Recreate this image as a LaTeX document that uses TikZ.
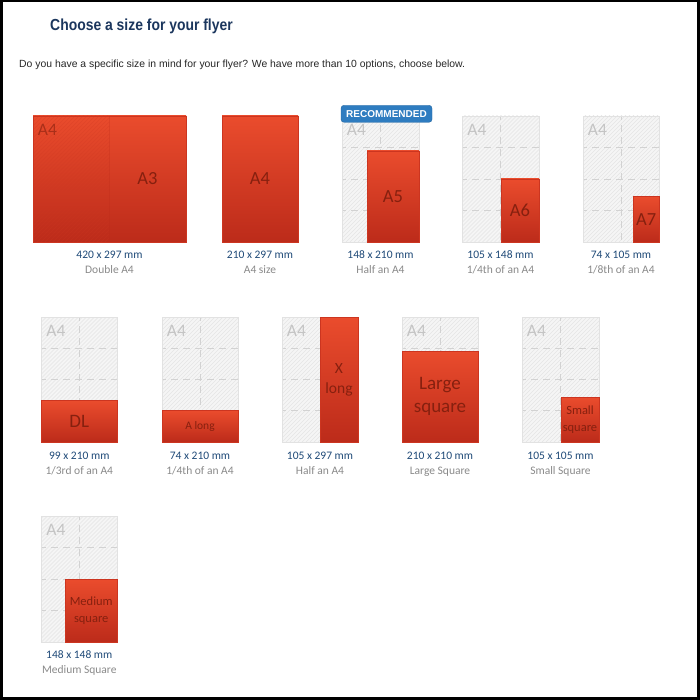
\documentclass[tikz,border=0pt]{standalone}
\usepackage{fontspec}
\setmainfont{Carlito}
\newfontfamily\subfont{Liberation Sans}
\newfontfamily\titlefont[FakeStretch=0.87]{Liberation Sans}
\newfontfamily\badgefont{Liberation Sans}
\definecolor{navy}{HTML}{1B365D}
\definecolor{sizeblue}{HTML}{1F4A78}
\definecolor{descgrey}{HTML}{8A8A8A}
\definecolor{redtop}{HTML}{EA4C2D}
\definecolor{redbot}{HTML}{BC2B1A}
\definecolor{redline}{HTML}{CC3520}
\definecolor{redtext}{HTML}{86200F}
\definecolor{bgfill}{HTML}{F5F5F5}
\definecolor{bgline}{HTML}{E2E2E2}
\definecolor{hatchc}{HTML}{E4E4E4}
\definecolor{dashc}{HTML}{D2D2D2}
\definecolor{a4grey}{HTML}{C4C4C4}
\definecolor{badgeblue}{HTML}{2E7CC0}
\tikzset{
  cardbg/.style={fill=bgfill},
  hatch/.style={draw=hatchc, line width=0.6pt},
  dashline/.style={draw=dashc, line width=0.8pt, dash pattern=on 7pt off 5pt, dash phase=3pt},
  cardborder/.style={draw=bgline, line width=0.8pt},
  a4lbl/.style={text=a4grey, inner sep=0pt, font={\fontsize{17.5}{20}\selectfont}},
  redbox/.style={top color=redtop, bottom color=redbot, draw=redline, line width=0.8pt},
  redtxt/.style={text=redtext, inner sep=0pt, align=center},
  sizelbl/.style={text=sizeblue, inner sep=0pt, anchor=base, font={\fontsize{11.5}{13}\selectfont}},
  desclbl/.style={text=descgrey, inner sep=0pt, anchor=base, font={\fontsize{11.5}{13}\selectfont}},
}
% background A4 card: x0 y0 x1 y1 name
\newcommand{\bgcard}[5]{%
  \fill[cardbg] (#1,#2) rectangle (#3,#4);
  \begin{scope}
    \clip (#1,#2) rectangle (#3,#4);
    \foreach \t in {-140,-136,...,80} \draw[hatch] (#1+\t,#4) -- ++(140,-140);
  \end{scope}
  \draw[dashline] ({(#1+#3)/2},#2) -- ({(#1+#3)/2},#4);
  \foreach \q in {1,2,3} \draw[dashline] (#1,{#2+\q*(#4-#2)/4}) -- (#3,{#2+\q*(#4-#2)/4});
  \draw[cardborder] (#1,#2) rectangle (#3,#4);
  \node[a4lbl, anchor=base west] (#5) at (#1+4.7,#2+19.5) {A4};
}
% red format: rx ry x1 y1 name fontsize baselineskip text
\newcommand{\redfmt}[8]{%
  \path[redbox] (#1,#2) rectangle (#3,#4);
  \node[redtxt, font={\fontsize{#6}{#7}\selectfont}] (#5) at ({(#1+#3)/2},{(#2+#4)/2}) {#8};
}
% labels: cx ybase size desc name
\newcommand{\cardlabels}[5]{%
  \node[sizelbl] (#5s) at (#1,#2) {#3};
  \node[desclbl] (#5d) at (#1,#2+15.3) {#4};
}
\begin{document}
\begin{tikzpicture}[x=1pt,y=-1pt]
\useasboundingbox (0,0) rectangle (700,700);
\fill[black] (0,0) rectangle (700,700);
\fill[white] (3,2) rectangle (697,697);

\node[anchor=base west, inner sep=0pt, text=navy, font={\titlefont\bfseries\fontsize{16}{18}\selectfont}] (title) at (50,30.7) {Choose a size for your flyer};
\node[anchor=base west, inner sep=0pt, text=black!85, font={\subfont\fontsize{10.4}{12}\selectfont}] (subtitle) at (19,67.3) {Do you have a specific size in mind for your flyer? We have more than 10 options, choose below.};

% ---- Row 1 ----
% Double A4
\path[redbox] (33,116) rectangle (186,242);
\begin{scope}
  \clip (33,116) rectangle (109,242);
  \foreach \t in {-140,-136,...,80} \draw[draw=redbot!60!redtop, opacity=0.3, line width=0.6pt] (33+\t,242) -- ++(140,-140);
\end{scope}
\draw[draw=redbot, opacity=0.25, line width=0.8pt] (109,116) -- (109,242);
\node[inner sep=0pt, anchor=base west, text=redtext!65!redtop, font={\fontsize{17.5}{20}\selectfont}] (da4) at (37.7,135.5) {A4};
\node[redtxt, font={\fontsize{18.5}{20}\selectfont}] (a3) at (147.5,179) {A3};
\cardlabels{109.5}{258.5}{420 x 297 mm}{Double A4}{l1}

% A4
\redfmt{222}{116}{298}{242}{a4}{18.5}{20}{A4}
\cardlabels{260}{258.5}{210 x 297 mm}{A4 size}{l2}

% A5
\bgcard{342}{116}{419}{242}{a5bg}
\redfmt{367}{151}{419}{242}{a5}{18.5}{20}{A5}
\node[draw=badgeblue!85!black, fill=badgeblue, rounded corners=3pt, minimum width=91pt, minimum height=17pt, inner sep=0pt, text=white, font={\badgefont\bfseries\fontsize{10}{12}\selectfont}] (rec) at (386.5,113.8) {RECOMMENDED};
\cardlabels{380.5}{258.5}{148 x 210 mm}{Half an A4}{l3}

% A6
\bgcard{462.5}{116}{539}{242}{a6bg}
\redfmt{501}{179}{539}{242}{a6}{18.5}{20}{A6}
\cardlabels{500.5}{258.5}{105 x 148 mm}{1/4th of an A4}{l4}

% A7
\bgcard{583}{116}{659.5}{242}{a7bg}
\redfmt{633}{196.5}{659.5}{242}{a7}{18.5}{20}{A7}
\cardlabels{621}{258.5}{74 x 105 mm}{1/8th of an A4}{l5}

% ---- Row 2 ----
\bgcard{41.5}{317}{117}{442}{dlbg}
\redfmt{41.5}{400.5}{117}{442}{dl}{19}{20}{DL}
\cardlabels{79.3}{459.2}{99 x 210 mm}{1/3rd of an A4}{l6}

\bgcard{162}{317}{238}{442}{albg}
\redfmt{162}{410.5}{238}{442}{al}{11.5}{13}{A long}
\cardlabels{200}{459.2}{74 x 210 mm}{1/4th of an A4}{l7}

\bgcard{282}{317}{358}{442}{xlbg}
\redfmt{320}{317}{358}{442}{xl}{15.5}{20}{X\\long}
\cardlabels{320}{459.2}{105 x 297 mm}{Half an A4}{l8}

\bgcard{402}{317}{478}{442}{lsbg}
\redfmt{402}{351}{478}{442}{ls}{19}{23}{Large\\square}
\cardlabels{440}{459.2}{210 x 210 mm}{Large Square}{l9}

\bgcard{522}{317}{599}{442}{ssbg}
\redfmt{561}{397}{599}{442}{ss}{12.5}{16.5}{Small\\square}
\cardlabels{560.5}{459.2}{105 x 105 mm}{Small Square}{l10}

% ---- Row 3 ----
\bgcard{41.5}{516}{117}{642}{msbg}
\redfmt{65.5}{579}{117}{642}{ms}{12.5}{17.5}{Medium\\square}
\cardlabels{79.3}{658.5}{148 x 148 mm}{Medium Square}{l11}
\end{tikzpicture}
\end{document}
